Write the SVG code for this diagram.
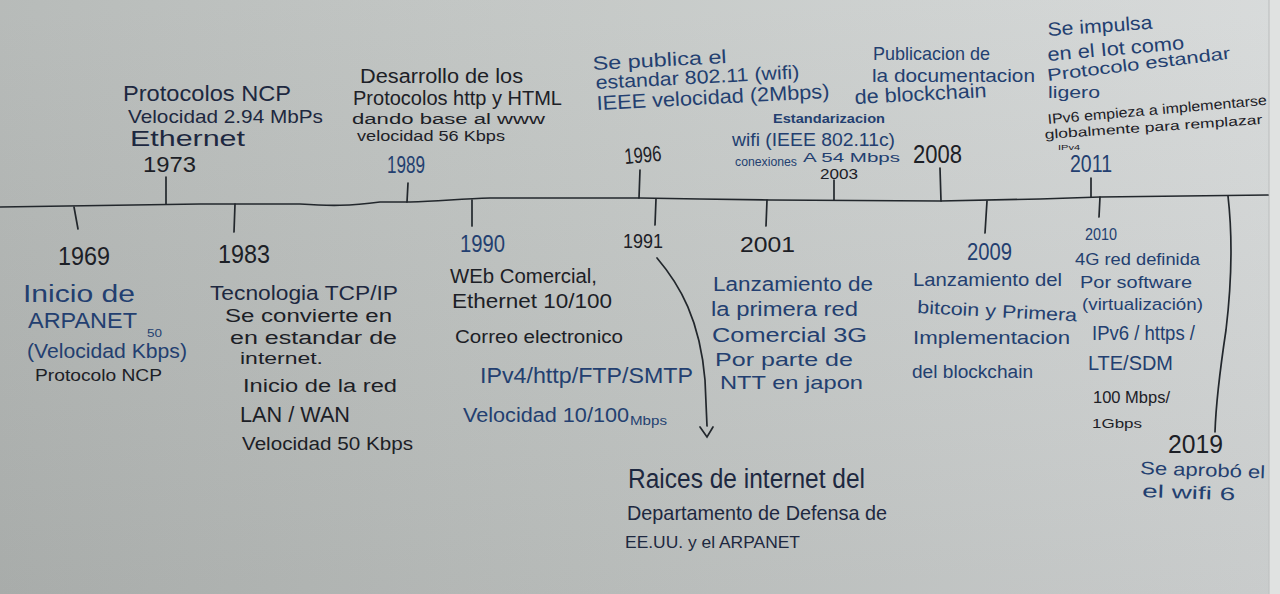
<svg xmlns="http://www.w3.org/2000/svg" width="1280" height="594" viewBox="0 0 1280 594">
<defs>
<linearGradient id="board" x1="0" y1="0" x2="1" y2="0">
<stop offset="0" stop-color="#b3b7b5"/>
<stop offset="0.45" stop-color="#c2c6c4"/>
<stop offset="1" stop-color="#d6d9d9"/>
</linearGradient>
<linearGradient id="shade" x1="0" y1="0" x2="0" y2="1">
<stop offset="0" stop-color="#ffffff" stop-opacity="0.06"/>
<stop offset="1" stop-color="#000000" stop-opacity="0.06"/>
</linearGradient>
</defs>
<style>
text{font-family:"Liberation Sans","DejaVu Sans",sans-serif;}
.k{fill:#1c2026;}
.b{fill:#233f70;}
.n{fill:#1d2840;}
.ln{fill:none;stroke:#22272c;stroke-width:1.7;stroke-linecap:round;}
</style>
<rect width="1280" height="594" fill="url(#board)"/>
<rect width="1280" height="594" fill="url(#shade)"/>
<rect x="1269" y="0" width="11" height="594" fill="#e0e2e1"/>
<line x1="1269" y1="0" x2="1269" y2="594" stroke="#bfc2c1" stroke-width="1.2"/>

<g id="connectors">
<path class="ln" d="M0,207 C80,206 150,205 200,204 L300,204 C330,206 350,206 380,202 L410,202 C440,201 460,199 490,198 L640,198 L700,199 L770,200 L940,201 L1040,199 L1100,197 L1268,195"/>
<line class="ln" x1="166" y1="177" x2="166" y2="204"/>
<line class="ln" x1="408" y1="183" x2="407" y2="202"/>
<line class="ln" x1="640" y1="170" x2="639" y2="198"/>
<line class="ln" x1="834" y1="180" x2="834" y2="200"/>
<line class="ln" x1="940" y1="168" x2="941" y2="201"/>
<line class="ln" x1="1091" y1="178" x2="1091" y2="197"/>
<line class="ln" x1="74" y1="207" x2="78" y2="229"/>
<line class="ln" x1="235" y1="204" x2="234" y2="232"/>
<line class="ln" x1="472" y1="200" x2="472" y2="226"/>
<line class="ln" x1="656" y1="199" x2="655" y2="225"/>
<line class="ln" x1="767" y1="200" x2="766" y2="226"/>
<line class="ln" x1="987" y1="201" x2="985" y2="233"/>
<line class="ln" x1="1100" y1="197" x2="1099" y2="217"/>
<path class="ln" d="M1228,196 C1233,240 1232,280 1226,330 C1220,370 1216,400 1215,432"/>
<path class="ln" stroke="#22355a" d="M657,258 C680,285 700,320 705,380 L707,426"/>
<path class="ln" stroke="#22355a" d="M700,427 L707,437 L713,427"/>
</g>

<g id="e1973">
<text class="n" x="123" y="101" font-size="22" textLength="168" lengthAdjust="spacingAndGlyphs">Protocolos NCP</text>
<text class="n" x="128" y="123" font-size="19" textLength="195" lengthAdjust="spacingAndGlyphs">Velocidad 2.94 MbPs</text>
<text class="n" x="130" y="146" font-size="22" textLength="115" lengthAdjust="spacingAndGlyphs">Ethernet</text>
<text class="k" x="143" y="172" font-size="22" textLength="53" lengthAdjust="spacingAndGlyphs">1973</text>
</g>

<g id="e1989">
<text class="k" x="360" y="83" font-size="20" textLength="163" lengthAdjust="spacingAndGlyphs">Desarrollo de los</text>
<text class="k" x="353" y="105" font-size="20" textLength="209" lengthAdjust="spacingAndGlyphs">Protocolos http y HTML</text>
<text class="k" x="352" y="124" font-size="14" textLength="193" lengthAdjust="spacingAndGlyphs">dando base al www</text>
<text class="k" x="357" y="141" font-size="14" textLength="148" lengthAdjust="spacingAndGlyphs">velocidad 56 Kbps</text>
<text class="b" x="387" y="173" font-size="24" textLength="38" lengthAdjust="spacingAndGlyphs">1989</text>
</g>

<g id="e1996">
<text class="b" x="593" y="70" font-size="19" textLength="134" lengthAdjust="spacingAndGlyphs" transform="rotate(-3 593 70)">Se publica el</text>
<text class="b" x="596" y="89" font-size="19" textLength="204" lengthAdjust="spacingAndGlyphs" transform="rotate(-3 596 89)">estandar 802.11 (wifi)</text>
<text class="b" x="597" y="110" font-size="20" textLength="233" lengthAdjust="spacingAndGlyphs" transform="rotate(-3 597 110)">IEEE velocidad (2Mbps)</text>
<text class="k" x="625" y="164" font-size="22" textLength="37" lengthAdjust="spacingAndGlyphs" transform="rotate(-5 625 164)">1996</text>
</g>

<g id="e2003">
<text class="b" x="773" y="123" font-size="13" font-weight="bold" textLength="112" lengthAdjust="spacingAndGlyphs">Estandarizacion</text>
<text class="b" x="732" y="146" font-size="18" textLength="163" lengthAdjust="spacingAndGlyphs">wifi (IEEE 802.11c)</text>
<text class="b" x="735" y="166" font-size="12" textLength="62" lengthAdjust="spacingAndGlyphs">conexiones</text>
<text class="b" x="803" y="162" font-size="13" textLength="97" lengthAdjust="spacingAndGlyphs">A 54 Mbps</text>
<text class="k" x="820" y="179" font-size="14" textLength="38" lengthAdjust="spacingAndGlyphs">2003</text>
</g>

<g id="e2008">
<text class="b" x="873" y="60" font-size="19" textLength="117" lengthAdjust="spacingAndGlyphs">Publicacion de</text>
<text class="b" x="872" y="82" font-size="19" textLength="163" lengthAdjust="spacingAndGlyphs">la documentacion</text>
<text class="b" x="855" y="104" font-size="20" textLength="132" lengthAdjust="spacingAndGlyphs" transform="rotate(-3 855 104)">de blockchain</text>
<text class="k" x="913" y="163" font-size="26" textLength="49" lengthAdjust="spacingAndGlyphs">2008</text>
</g>

<g id="e2011">
<text class="b" x="1048" y="36" font-size="19" textLength="105" lengthAdjust="spacingAndGlyphs" transform="rotate(-4 1048 36)">Se impulsa</text>
<text class="b" x="1048" y="61" font-size="19" textLength="137" lengthAdjust="spacingAndGlyphs" transform="rotate(-5 1048 61)">en el Iot como</text>
<text class="b" x="1048" y="81" font-size="17" textLength="184" lengthAdjust="spacingAndGlyphs" transform="rotate(-7 1048 81)">Protocolo estandar</text>
<text class="b" x="1048" y="98" font-size="17" textLength="52" lengthAdjust="spacingAndGlyphs">ligero</text>
<text class="k" x="1048" y="124" font-size="14" textLength="220" lengthAdjust="spacingAndGlyphs" transform="rotate(-5 1048 124)">IPv6 empieza a implementarse</text>
<text class="k" x="1045" y="139" font-size="13" textLength="218" lengthAdjust="spacingAndGlyphs" transform="rotate(-4 1045 139)">globalmente para remplazar</text>
<text class="k" x="1058" y="150" font-size="8" textLength="22" lengthAdjust="spacingAndGlyphs">IPv4</text>
<text class="b" x="1070" y="172" font-size="23" textLength="42" lengthAdjust="spacingAndGlyphs">2011</text>
</g>

<g id="e1969">
<text class="k" x="58" y="265" font-size="25" textLength="52" lengthAdjust="spacingAndGlyphs">1969</text>
<text class="b" x="23" y="302" font-size="23" textLength="112" lengthAdjust="spacingAndGlyphs">Inicio de</text>
<text class="b" x="28" y="328" font-size="22" textLength="109" lengthAdjust="spacingAndGlyphs">ARPANET</text>
<text class="b" x="147" y="337" font-size="11" textLength="15" lengthAdjust="spacingAndGlyphs">50</text>
<text class="b" x="27" y="358" font-size="20" textLength="160" lengthAdjust="spacingAndGlyphs">(Velocidad Kbps)</text>
<text class="k" x="35" y="381" font-size="17" textLength="127" lengthAdjust="spacingAndGlyphs">Protocolo NCP</text>
</g>

<g id="e1983">
<text class="k" x="218" y="263" font-size="25" textLength="52" lengthAdjust="spacingAndGlyphs">1983</text>
<text class="n" x="210" y="300" font-size="20" textLength="188" lengthAdjust="spacingAndGlyphs">Tecnologia TCP/IP</text>
<text class="k" x="225" y="322" font-size="18" textLength="167" lengthAdjust="spacingAndGlyphs">Se convierte en</text>
<text class="k" x="230" y="344" font-size="18" textLength="167" lengthAdjust="spacingAndGlyphs">en estandar de</text>
<text class="k" x="240" y="364" font-size="17" textLength="83" lengthAdjust="spacingAndGlyphs">internet.</text>
<text class="k" x="243" y="392" font-size="18" textLength="154" lengthAdjust="spacingAndGlyphs">Inicio de la red</text>
<text class="k" x="240" y="422" font-size="22" textLength="110" lengthAdjust="spacingAndGlyphs">LAN / WAN</text>
<text class="k" x="242" y="450" font-size="18" textLength="171" lengthAdjust="spacingAndGlyphs">Velocidad 50 Kbps</text>
</g>

<g id="e1990">
<text class="b" x="460" y="252" font-size="23" textLength="45" lengthAdjust="spacingAndGlyphs">1990</text>
<text class="k" x="450" y="283" font-size="20" textLength="147" lengthAdjust="spacingAndGlyphs">WEb Comercial,</text>
<text class="k" x="452" y="308" font-size="20" textLength="160" lengthAdjust="spacingAndGlyphs">Ethernet 10/100</text>
<text class="k" x="455" y="343" font-size="18" textLength="168" lengthAdjust="spacingAndGlyphs">Correo electronico</text>
<text class="b" x="480" y="383" font-size="22" textLength="213" lengthAdjust="spacingAndGlyphs">IPv4/http/FTP/SMTP</text>
<text class="b" x="463" y="422" font-size="20" textLength="166" lengthAdjust="spacingAndGlyphs">Velocidad 10/100</text>
<text class="b" x="630" y="425" font-size="12" textLength="37" lengthAdjust="spacingAndGlyphs">Mbps</text>
</g>

<g id="e1991">
<text class="k" x="623" y="248" font-size="20" textLength="40" lengthAdjust="spacingAndGlyphs">1991</text>
<text class="n" x="628" y="488" font-size="27" textLength="237" lengthAdjust="spacingAndGlyphs">Raices de internet del</text>
<text class="n" x="627" y="520" font-size="21" textLength="260" lengthAdjust="spacingAndGlyphs">Departamento de Defensa de</text>
<text class="n" x="625" y="548" font-size="17" textLength="175" lengthAdjust="spacingAndGlyphs">EE.UU. y el ARPANET</text>
</g>

<g id="e2001">
<text class="k" x="740" y="252" font-size="22" textLength="55" lengthAdjust="spacingAndGlyphs">2001</text>
<text class="b" x="713" y="291" font-size="20" textLength="160" lengthAdjust="spacingAndGlyphs">Lanzamiento de</text>
<text class="b" x="711" y="316" font-size="20" textLength="147" lengthAdjust="spacingAndGlyphs">la primera red</text>
<text class="b" x="712" y="342" font-size="20" textLength="155" lengthAdjust="spacingAndGlyphs">Comercial 3G</text>
<text class="b" x="715" y="366" font-size="19" textLength="138" lengthAdjust="spacingAndGlyphs">Por parte de</text>
<text class="b" x="720" y="389" font-size="19" textLength="143" lengthAdjust="spacingAndGlyphs">NTT en japon</text>
</g>

<g id="e2009">
<text class="b" x="967" y="260" font-size="24" textLength="45" lengthAdjust="spacingAndGlyphs">2009</text>
<text class="b" x="913" y="286" font-size="19" textLength="149" lengthAdjust="spacingAndGlyphs">Lanzamiento del</text>
<text class="b" x="917" y="313" font-size="18" textLength="160" lengthAdjust="spacingAndGlyphs" transform="rotate(3 917 313)">bitcoin y Primera</text>
<text class="b" x="913" y="344" font-size="19" textLength="157" lengthAdjust="spacingAndGlyphs">Implementacion</text>
<text class="b" x="912" y="378" font-size="18" textLength="121" lengthAdjust="spacingAndGlyphs">del blockchain</text>
</g>

<g id="e2010">
<text class="b" x="1085" y="240" font-size="16" textLength="32" lengthAdjust="spacingAndGlyphs">2010</text>
<text class="b" x="1075" y="265" font-size="17" textLength="125" lengthAdjust="spacingAndGlyphs">4G red definida</text>
<text class="b" x="1080" y="288" font-size="17" textLength="112" lengthAdjust="spacingAndGlyphs">Por software</text>
<text class="b" x="1082" y="310" font-size="17" textLength="121" lengthAdjust="spacingAndGlyphs">(virtualización)</text>
<text class="b" x="1092" y="340" font-size="20" textLength="103" lengthAdjust="spacingAndGlyphs">IPv6 / https /</text>
<text class="b" x="1088" y="370" font-size="20" textLength="85" lengthAdjust="spacingAndGlyphs">LTE/SDM</text>
<text class="k" x="1093" y="403" font-size="17" textLength="77" lengthAdjust="spacingAndGlyphs">100 Mbps/</text>
<text class="k" x="1092" y="428" font-size="12" textLength="50" lengthAdjust="spacingAndGlyphs">1Gbps</text>
</g>

<g id="e2019">
<text class="k" x="1168" y="453" font-size="25" textLength="55" lengthAdjust="spacingAndGlyphs">2019</text>
<text class="b" x="1140" y="474" font-size="18" textLength="125" lengthAdjust="spacingAndGlyphs" transform="rotate(2 1140 474)">Se aprobó el</text>
<text class="b" x="1142" y="497" font-size="18" textLength="93" lengthAdjust="spacingAndGlyphs" transform="rotate(2 1142 497)">el wifi 6</text>
</g>
</svg>
